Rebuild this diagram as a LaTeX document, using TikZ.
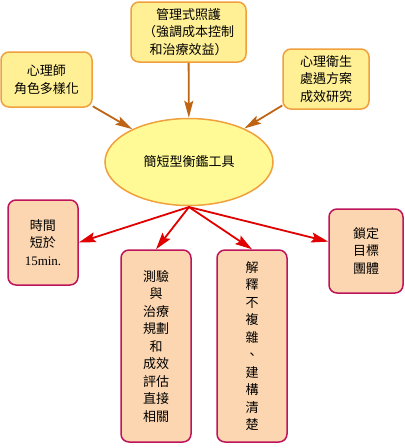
\documentclass[tikz,border=0pt]{standalone}
\usepackage{fontspec}
\setmainfont{Noto Sans CJK TC}
\newfontfamily\latinserif{Liberation Serif}
\usetikzlibrary{shapes.geometric,arrows.meta}
\definecolor{mapyellow}{RGB}{255,240,150}
\definecolor{mapcore}{RGB}{255,250,150}
\definecolor{maporange}{RGB}{240,160,60}
\definecolor{mapbrown}{RGB}{190,100,20}
\definecolor{mappeach}{RGB}{252,214,176}
\definecolor{mapcrimson}{RGB}{190,20,90}
\definecolor{mapred}{RGB}{225,0,0}

\begin{document}
\begin{tikzpicture}[
    x=1pt, y=-1pt,
    topbox/.style={draw=maporange, fill=mapyellow, line width=1.5pt, rounded corners=8pt, inner sep=0pt, align=center, font=\fontsize{13}{17.5}\selectfont},
    tipbox/.style={draw=mapcrimson, fill=mappeach, line width=1.5pt, rounded corners=8pt, inner sep=0pt, align=center, minimum width=70pt, font=\fontsize{13}{17.5}\selectfont},
    hub/.style={ellipse, draw=maporange, fill=mapcore, line width=1.5pt, inner sep=0pt, minimum width=168pt, minimum height=87pt, font=\fontsize{13}{17.5}\selectfont},
    feedarrow/.style={-{Stealth[length=17pt, width=9pt, inset=3pt]}, draw=mapbrown, line width=1.8pt},
    outarrow/.style={-{Stealth[length=17pt, width=10pt, inset=3pt]}, draw=mapred, line width=1.8pt}
]
\useasboundingbox (0,0) rectangle (405,448);

% feeding factors
\node[topbox, minimum width=115pt, minimum height=60pt] (care) at (188.5,32) {管理式照護\\（強調成本控制\\和治療效益）};
\node[topbox, minimum width=91pt, minimum height=55pt] (role) at (46.5,79.5) {心理師\\角色多樣化};
\node[topbox, minimum width=86pt, minimum height=60pt] (study) at (326,79) {心理衛生\\處遇方案\\成效研究};

\node[hub] (tool) at (189,162) {簡短型衡鑑工具};
\coordinate (fan) at (189,207);

% features
\node[tipbox, minimum height=85pt] (time) at (43,242.5) {時間\\短於\\{\latinserif 15min.}};
\node[tipbox, minimum height=192pt] (test) at (156,346) {測驗\\與\\治療\\規劃\\和\\成效\\評估\\直接\\相關};
\node[tipbox, minimum height=192pt] (read) at (252,346) {解\\釋\\不\\複\\雜\\、\\建\\構\\清\\楚};
\node[tipbox, minimum width=74pt, minimum height=84pt] (group) at (366,251) {鎖定\\目標\\團體};

\draw[feedarrow] (care) -- (tool);
\draw[feedarrow] (role) -- (tool);
\draw[feedarrow] (study) -- (tool);

\draw[outarrow] (fan) -- (time.east);
\draw[outarrow] (fan) -- (test.north);
\draw[outarrow] (fan) -- (read.north);
\draw[outarrow] (fan) -- (group);
\end{tikzpicture}
\end{document}
